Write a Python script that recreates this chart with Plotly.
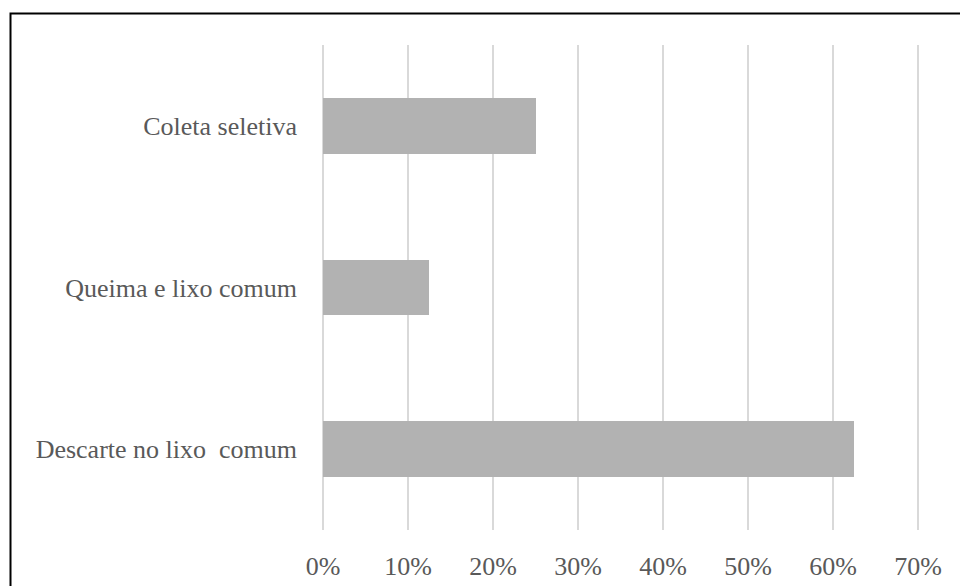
import plotly.graph_objects as go

categories = ["Descarte no lixo  comum", "Queima e lixo comum", "Coleta seletiva"]
values = [0.625, 0.125, 0.25]
tick_vals = [0, 0.1, 0.2, 0.3, 0.4, 0.5, 0.6, 0.7]
tick_text = ["0%", "10%", "20%", "30%", "40%", "50%", "60%", "70%"]

W, H = 960, 586
L, R, T, B = 322, 41, 45, 56
pw, ph = W - L - R, H - T - B

fig = go.Figure(go.Bar(
    x=values, y=categories, orientation="h",
    marker=dict(color="#b2b2b2", line=dict(width=0)),
    width=0.346,
))

FAM = "Liberation Serif"
TXT = "#595959"

fig.update_layout(
    width=W, height=H,
    margin=dict(l=L, r=R, t=T, b=B, autoexpand=False),
    paper_bgcolor="white", plot_bgcolor="white",
    font=dict(family=FAM, size=26, color=TXT),
    showlegend=False,
    bargap=0,
)
fig.update_xaxes(
    range=[-0.0012, 0.7012], tickvals=tick_vals, ticktext=tick_text,
    showgrid=True, gridcolor="#d9d9d9", gridwidth=2,
    zeroline=True, zerolinecolor="#d9d9d9", zerolinewidth=2,
    showline=False, ticks="", automargin=False,
    ticklabelstandoff=18,
    tickfont=dict(family=FAM, size=26, color=TXT),
)
fig.update_yaxes(
    showgrid=False, zeroline=False, showline=False, ticks="", automargin=False,
    ticklabelstandoff=24,
    tickfont=dict(family=FAM, size=26, color=TXT),
    range=[-0.5, 2.5],
)
fig.add_shape(
    type="rect", xref="paper", yref="paper",
    x0=(10.5 - L) / pw, x1=(W + 20 - L) / pw,
    y0=(H - B - (H + 20)) / ph, y1=(H - B - 13.5) / ph,
    line=dict(color="black", width=2), fillcolor="rgba(0,0,0,0)",
    layer="above",
)

fig.write_html("out.html")
